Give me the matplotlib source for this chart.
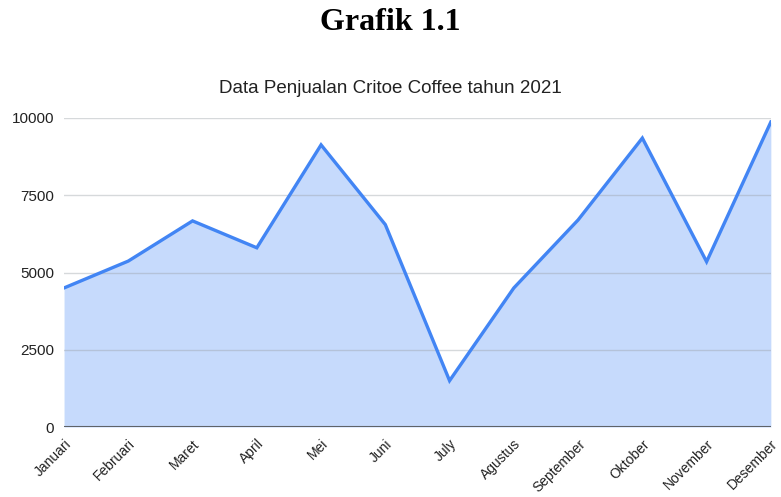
import matplotlib
matplotlib.use("Agg")
import matplotlib.pyplot as plt

months = ["Januari", "Februari", "Maret", "April", "Mei", "Juni", "July",
          "Agustus", "September", "Oktober", "November", "Desember"]
sales = [4500, 5370, 6670, 5800, 9130, 6550, 1500, 4500, 6700, 9350, 5350, 9870]
yticks = [0, 2500, 5000, 7500, 10000]

fig = plt.figure(figsize=(7.81, 4.97), dpi=100)
ax = fig.add_axes([0.082, 0.1408, 0.905, 0.6218])

x = list(range(len(months)))
ax.fill_between(x, sales, 0, color="#c6dafc", linewidth=0, zorder=1)
ax.plot(x, sales, color="#4285f4", linewidth=2.4, zorder=3, solid_joinstyle="miter")

for t in yticks[1:]:
    ax.axhline(t, color="#9aa0a6", alpha=0.4, linewidth=1, zorder=2)
ax.axhline(0, color="#5f6368", linewidth=1.5, zorder=4)

ax.set_xlim(0, len(months) - 1)
ax.set_ylim(0, 10000)
ax.set_yticks(yticks)
ax.set_yticklabels([str(t) for t in yticks], fontsize=11, family="Liberation Sans", color="#222222")
ax.set_xticks(x)
ax.set_xticklabels(months, rotation=45, ha="right", rotation_mode="anchor",
                   fontsize=10, family="Liberation Sans", color="#222222")
ax.tick_params(axis="both", length=0, pad=7)
ax.tick_params(axis="x", pad=7)
for s in ax.spines.values():
    s.set_visible(False)

fig.text(0.5, 0.955, "Grafik 1.1", ha="center", va="center", fontsize=23,
         fontweight="bold", family="Liberation Serif")
fig.text(0.5, 0.822, "Data Penjualan Critoe Coffee tahun 2021", ha="center", va="center",
         fontsize=13.5, family="Liberation Sans", color="#222222")

fig.savefig("out.png", dpi=100)
